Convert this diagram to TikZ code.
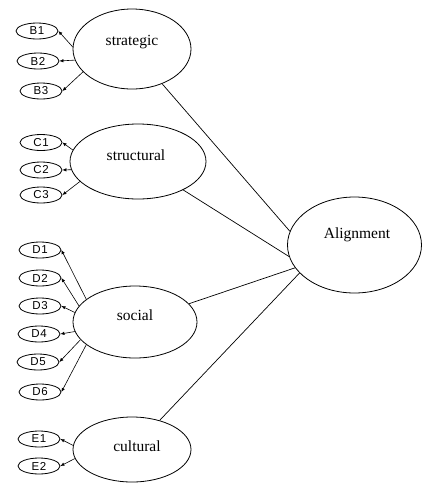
\documentclass[tikz,border=0pt]{standalone}
\usepackage{fontspec}
\setmainfont{Liberation Serif}
\newfontfamily\indfont[LetterSpace=6]{Liberation Sans}
\usetikzlibrary{shapes.geometric,arrows.meta}
\tikzset{
  latent/.style={draw, ellipse, line width=0.8pt, inner sep=0pt},
  lbl/.style={inner sep=0pt, font=\fontsize{15.5}{18}\selectfont},
  ind/.style={draw, ellipse, line width=0.8pt, inner sep=0pt, minimum width=42pt, minimum height=16pt, font=\indfont\fontsize{11.5}{13}\selectfont},
  arr/.style={line width=0.6pt, -{Latex[length=4pt,width=3.5pt]}},
  path2/.style={line width=0.7pt}
}
\begin{document}
\begin{tikzpicture}[x=1pt,y=-1pt]
\useasboundingbox (0,0) rectangle (426,483);
% latent variables
\node[latent, minimum width=118pt, minimum height=80pt] (S) at (132,49) {};
\node[lbl] (St) at (132,42) {strategic};
\node[latent, minimum width=136pt, minimum height=75pt] (T) at (138,161.5) {};
\node[lbl] (Tt) at (136,155) {structural};
\node[latent, minimum width=124pt, minimum height=72pt] (O) at (135,322) {};
\node[lbl] (Ot) at (135,315) {social};
\node[latent, minimum width=118pt, minimum height=65pt] (U) at (132,449.5) {};
\node[lbl] (Ut) at (137,446) {cultural};
\node[latent, minimum width=134pt, minimum height=96pt] (A) at (354.5,245) {};
\node[lbl] (At) at (357,235) {Alignment};
% indicators
\node[ind] (B1) at (37,31) {B1};
\node[ind] (B2) at (38,61) {B2};
\node[ind] (B3) at (41,91) {B3};
\node[ind] (C1) at (41,142.5) {C1};
\node[ind] (C2) at (41,170) {C2};
\node[ind] (C3) at (41,195) {C3};
\node[ind] (D1) at (40,250) {D1};
\node[ind] (D2) at (40,278) {D2};
\node[ind] (D3) at (40,306) {D3};
\node[ind] (D4) at (39,334) {D4};
\node[ind] (D5) at (38,362) {D5};
\node[ind] (D6) at (40,392) {D6};
\node[ind] (E1) at (39,439) {E1};
\node[ind] (E2) at (39,466) {E2};
% latent to alignment
\draw[path2] (S) -- (A.168);
\draw[path2] (T) -- (A.190);
\draw[path2] (O) -- (A.201);
\draw[path2] (U) -- (A.207);
% indicator arrows
\draw[arr] (S.178) -- (B1.east);
\draw[arr] (S.191) -- (B2.east);
\draw[arr] (S.205) -- (B3.east);
\draw[arr] (T.170) -- (C1.east);
\draw[arr] (T.187) -- (C2.east);
\draw[arr] (T.199) -- (C3.east);
\draw[arr] (O.155) -- (D1.east);
\draw[arr] (O.164) -- (D2.east);
\draw[arr] (O.171) -- (D3.east);
\draw[arr] (O.189) -- (D4.east);
\draw[arr] (O.198) -- (D5.east);
\draw[arr] (O.205) -- (D6.east);
\draw[arr] (U.176) -- (E1.east);
\draw[arr] (U.189) -- (E2.east);
\end{tikzpicture}
\end{document}
